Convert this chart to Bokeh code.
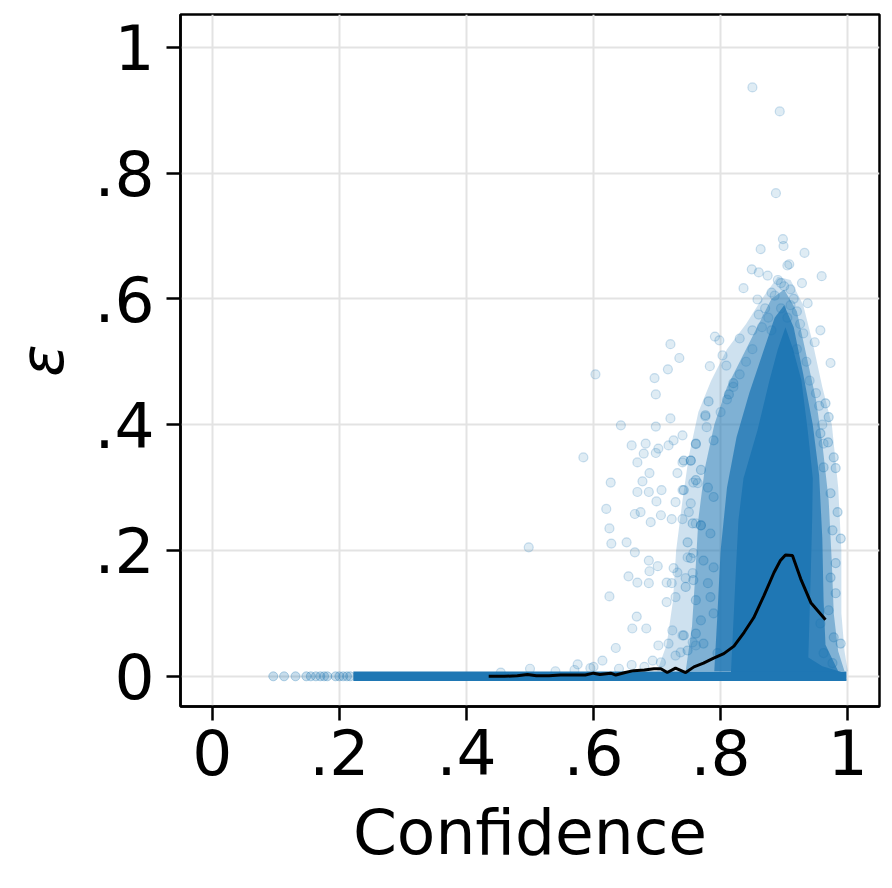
from bokeh.plotting import figure
from bokeh.models import FixedTicker, Range1d
from bokeh.embed import file_html
from bokeh.resources import INLINE

# ---------------- data ----------------
x_ticks = [0, 0.2, 0.4, 0.6, 0.8, 1]
x_tick_labels = ["0", ".2", ".4", ".6", ".8", "1"]
y_ticks = [0, 0.2, 0.4, 0.6, 0.8, 1]
y_tick_labels = ["0", ".2", ".4", ".6", ".8", "1"]

# outline of the saturated core of the point cloud
core_x = [0.816, 0.824, 0.828, 0.836, 0.858, 0.877, 0.890, 0.902, 0.914, 0.927,
          0.937, 0.945, 0.944, 0.942, 0.938, 0.96, 0.99, 0.998, 0.816]
core_y = [0.0, 0.169, 0.248, 0.315, 0.391, 0.471, 0.52, 0.555, 0.52, 0.471,
          0.391, 0.315, 0.248, 0.169, 0.03, 0.016, 0.007, -0.006, -0.006]

# density zones around the core (dense -> sparse)
zone3_x = [0.79, 0.795, 0.80, 0.81, 0.825, 0.845, 0.865, 0.885, 0.90, 0.915,
           0.93, 0.945, 0.955, 0.96, 0.962, 0.965, 0.985]
zone3_y = [0.008, 0.10, 0.20, 0.30, 0.38, 0.45, 0.51, 0.57, 0.59, 0.555,
           0.48, 0.40, 0.32, 0.22, 0.12, 0.05, 0.008]
zone2_x = [0.745, 0.755, 0.76, 0.765, 0.775, 0.79, 0.81, 0.835, 0.86, 0.88,
           0.90, 0.92, 0.935, 0.95, 0.96, 0.97, 0.975, 0.978, 0.985, 0.995]
zone2_y = [0.008, 0.08, 0.16, 0.25, 0.33, 0.40, 0.46, 0.51, 0.56, 0.60,
           0.615, 0.58, 0.51, 0.44, 0.37, 0.28, 0.18, 0.10, 0.04, 0.008]
zone1_x = [0.70, 0.715, 0.725, 0.73, 0.74, 0.75, 0.765, 0.785, 0.81, 0.84,
           0.865, 0.89, 0.91, 0.93, 0.945, 0.96, 0.975, 0.985, 0.99, 0.99,
           0.995, 1.0]
zone1_y = [0.008, 0.05, 0.12, 0.20, 0.28, 0.35, 0.42, 0.47, 0.52, 0.56,
           0.60, 0.635, 0.63, 0.59, 0.53, 0.46, 0.40, 0.30, 0.20, 0.10,
           0.04, 0.008]

# dense band of points at epsilon ~ 0
band_x = [0.222, 0.998, 0.998, 0.222]
band_y = [-0.0075, -0.0075, 0.0075, 0.0075]
band_left_x = [0.096, 0.113, 0.131, 0.148, 0.155, 0.163, 0.170, 0.176, 0.181,
               0.194, 0.200, 0.206, 0.212, 0.217]
band_left_y = [0.0] * len(band_left_x)

# points in the fuzzy edges of the cloud
edge_x = [0.781, 0.776, 0.813, 0.820, 0.789, 0.761, 0.742, 0.753, 0.769, 0.761,
          0.742, 0.780, 0.789, 0.756, 0.769, 0.748, 0.784, 0.753, 0.773, 0.789,
          0.757, 0.780, 0.745, 0.761, 0.784, 0.769, 0.789, 0.742, 0.761, 0.773,
          0.748, 0.795,
          0.965, 0.970, 0.969, 0.978, 0.981, 0.973, 0.984, 0.989, 0.976, 0.981,
          0.973, 0.981, 0.970, 0.989, 0.978, 0.976, 0.962, 0.957, 0.962, 0.957]
edge_y = [0.437, 0.415, 0.448, 0.466, 0.375, 0.370, 0.343, 0.343, 0.328, 0.312,
          0.296, 0.300, 0.285, 0.243, 0.240, 0.213, 0.227, 0.188, 0.184, 0.173,
          0.153, 0.148, 0.142, 0.121, 0.126, 0.089, 0.100, 0.065, 0.068, 0.052,
          0.041, 0.037,
          0.434, 0.412, 0.372, 0.348, 0.331, 0.291, 0.261, 0.219, 0.232, 0.180,
          0.157, 0.132, 0.105, 0.052, 0.062, 0.021, 0.037, 0.084, 0.332, 0.386]

# individual outlying points
pts_x = [0.850, 0.893, 0.887, 0.898, 0.899, 0.863, 0.932, 0.849, 0.860, 0.874,
         0.905, 0.908, 0.959, 0.836, 0.928, 0.858, 0.937, 0.957, 0.948, 0.973,
         0.721, 0.735, 0.717, 0.791, 0.798, 0.830, 0.803, 0.783, 0.809, 0.696,
         0.890, 0.895, 0.900, 0.910, 0.880, 0.885, 0.915, 0.870, 0.895, 0.910,
         0.920, 0.860, 0.875, 0.905, 0.925, 0.865, 0.880, 0.930, 0.850, 0.920,
         0.935, 0.940, 0.950, 0.955, 0.960, 0.962, 0.850, 0.840, 0.830, 0.820,
         0.810, 0.800,
         0.603, 0.698, 0.721, 0.643, 0.698, 0.584, 0.660, 0.682, 0.702, 0.698,
         0.718, 0.726, 0.740, 0.679, 0.669, 0.761, 0.776, 0.778, 0.627, 0.688,
         0.677, 0.669, 0.687, 0.707, 0.732, 0.740, 0.753, 0.740, 0.699, 0.729,
         0.757, 0.764, 0.620, 0.665, 0.674, 0.706, 0.723, 0.740, 0.625, 0.690,
         0.753, 0.750, 0.761, 0.769,
         0.628, 0.652, 0.665, 0.687, 0.701, 0.688, 0.655, 0.669, 0.687, 0.726,
         0.732, 0.715, 0.723, 0.625, 0.715, 0.729, 0.668, 0.661, 0.683, 0.724,
         0.740, 0.718, 0.702, 0.635, 0.614, 0.575, 0.729, 0.737, 0.693, 0.706,
         0.756, 0.761, 0.745, 0.756, 0.748, 0.757,
         0.498, 0.595, 0.454, 0.500, 0.540, 0.570, 0.600, 0.640, 0.660, 0.680]
pts_y = [0.936, 0.898, 0.768, 0.695, 0.684, 0.679, 0.673, 0.647, 0.642, 0.637,
         0.653, 0.655, 0.636, 0.617, 0.625, 0.599, 0.593, 0.550, 0.531, 0.498,
         0.528, 0.506, 0.488, 0.540, 0.534, 0.537, 0.510, 0.493, 0.494, 0.474,
         0.630, 0.625, 0.620, 0.615, 0.610, 0.605, 0.600, 0.585, 0.585, 0.590,
         0.580, 0.575, 0.570, 0.570, 0.560, 0.555, 0.550, 0.545, 0.550, 0.520,
         0.500, 0.470, 0.450, 0.430, 0.400, 0.370, 0.520, 0.500, 0.480, 0.460,
         0.440, 0.420,
         0.480, 0.448, 0.410, 0.399, 0.397, 0.348, 0.367, 0.370, 0.362, 0.355,
         0.367, 0.375, 0.383, 0.354, 0.340, 0.369, 0.413, 0.396, 0.308, 0.323,
         0.310, 0.293, 0.293, 0.296, 0.323, 0.340, 0.343, 0.296, 0.278, 0.277,
         0.308, 0.307, 0.266, 0.258, 0.261, 0.256, 0.250, 0.250, 0.235, 0.245,
         0.275, 0.261, 0.243, 0.240,
         0.211, 0.213, 0.197, 0.184, 0.175, 0.167, 0.159, 0.149, 0.148, 0.172,
         0.165, 0.149, 0.148, 0.127, 0.118, 0.126, 0.095, 0.076, 0.076, 0.073,
         0.065, 0.052, 0.049, 0.045, 0.025, 0.019, 0.033, 0.038, 0.025, 0.022,
         0.054, 0.049, 0.156, 0.164, 0.189, 0.196,
         0.205, 0.013, 0.006, 0.012, 0.008, 0.010, 0.015, 0.012, 0.018, 0.015]

# binned mean curve (black line)
line_x = [0.435, 0.46, 0.48, 0.496, 0.51, 0.53, 0.548, 0.57, 0.587, 0.6,
          0.61, 0.627, 0.635, 0.65, 0.663, 0.68, 0.695, 0.706, 0.716, 0.729,
          0.745, 0.758, 0.773, 0.789, 0.805, 0.821, 0.837, 0.852, 0.868, 0.884,
          0.894, 0.902, 0.913, 0.926, 0.942, 0.965]
line_y = [0.0, 0.0, 0.001, 0.003, 0.001, 0.001, 0.002, 0.002, 0.002, 0.005,
          0.003, 0.005, 0.002, 0.006, 0.009, 0.010, 0.012, 0.012, 0.006, 0.013,
          0.006, 0.015, 0.021, 0.029, 0.036, 0.048, 0.070, 0.093, 0.128, 0.165,
          0.184, 0.193, 0.192, 0.155, 0.117, 0.090]

BLUE = "#1f77b4"
FONT = "DejaVu Sans"

p = figure(width=884, height=880,
           x_range=Range1d(-0.05, 1.05), y_range=Range1d(-0.048, 1.052),
           output_backend="svg", toolbar_location=None,
           min_border_left=180, min_border_right=5,
           min_border_top=14, min_border_bottom=174)

p.background_fill_color = "white"
p.border_fill_color = "white"
p.outline_line_color = "black"
p.outline_line_width = 2.5
p.outline_line_alpha = 1.0

# cloud
p.patch(zone1_x, zone1_y, fill_color=BLUE, fill_alpha=0.22, line_color=None)
p.patch(zone2_x, zone2_y, fill_color=BLUE, fill_alpha=0.45, line_color=None)
p.patch(zone3_x, zone3_y, fill_color=BLUE, fill_alpha=0.75, line_color=None)
p.patch(core_x, core_y, fill_color=BLUE, fill_alpha=1.0, line_color=None)
p.patch(band_x, band_y, fill_color=BLUE, fill_alpha=1.0, line_color=None)
p.scatter(band_left_x, band_left_y, size=9, fill_color=BLUE, fill_alpha=0.25,
          line_color=BLUE, line_alpha=0.3, line_width=1)
p.scatter(edge_x, edge_y, size=9, fill_color=BLUE, fill_alpha=0.2,
          line_color=BLUE, line_alpha=0.3, line_width=1.2)
p.scatter(pts_x, pts_y, size=9, fill_color=BLUE, fill_alpha=0.14,
          line_color=BLUE, line_alpha=0.22, line_width=1.2)

p.line(line_x, line_y, line_color="black", line_width=3)

# axes
for ax in (p.xaxis[0], p.yaxis[0]):
    ax.axis_line_color = "black"
    ax.axis_line_width = 2.5
    ax.major_tick_line_color = "black"
    ax.major_tick_line_width = 2.5
    ax.major_tick_out = 14
    ax.major_tick_in = 0
    ax.minor_tick_line_color = None
    ax.major_label_text_font = FONT
    ax.major_label_text_font_size = "63px"
    ax.major_label_text_color = "black"
    ax.axis_label_text_font = FONT
    ax.axis_label_text_color = "black"

p.xaxis.ticker = FixedTicker(ticks=x_ticks)
p.yaxis.ticker = FixedTicker(ticks=y_ticks)
p.xaxis.major_label_overrides = {t: l for t, l in zip(x_ticks, x_tick_labels)}
p.yaxis.major_label_overrides = {t: l for t, l in zip(y_ticks, y_tick_labels)}

p.xaxis.axis_label = "Confidence"
p.xaxis.axis_label_text_font_size = "63px"
p.xaxis.axis_label_text_font_style = "normal"
p.xaxis.major_label_standoff = 8
p.xaxis.axis_label_standoff = 18

p.yaxis.axis_label = "ε"
p.yaxis.axis_label_text_font_size = "60px"
p.yaxis.axis_label_text_font_style = "italic"
p.yaxis.major_label_standoff = 12
p.yaxis.axis_label_standoff = 14

p.xgrid.grid_line_color = "#e3e3e3"
p.ygrid.grid_line_color = "#e3e3e3"
p.xgrid.grid_line_width = 2
p.ygrid.grid_line_width = 2
p.xgrid.ticker = FixedTicker(ticks=x_ticks)
p.ygrid.ticker = FixedTicker(ticks=y_ticks)

open("out.html", "w").write(file_html(p, INLINE))
